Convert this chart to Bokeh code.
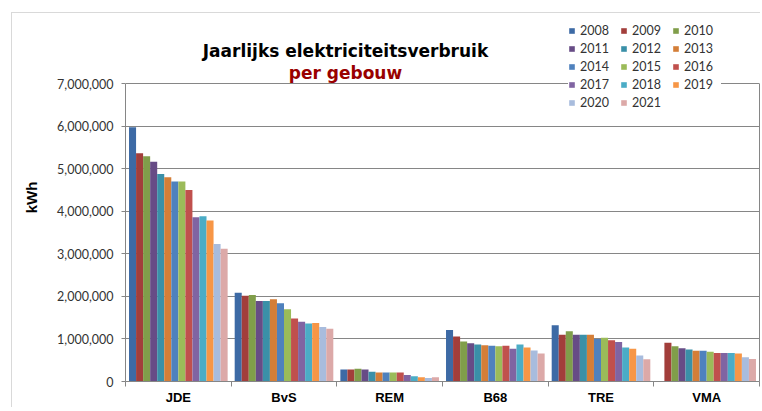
import math
from bokeh.plotting import figure
from bokeh.models import (ColumnDataSource, FactorRange, Range1d, LinearAxis, CategoricalAxis,
                          FixedTicker, NumeralTickFormatter, Legend, LegendItem, Label)
from bokeh.transform import dodge
from bokeh.embed import file_html
from bokeh.resources import INLINE

buildings = ["JDE", "BvS", "REM", "B68", "TRE", "VMA"]
years = ["2008", "2009", "2010", "2011", "2012", "2013", "2014",
         "2015", "2016", "2017", "2018", "2019", "2020", "2021"]

JDE = [5970000, 5360000, 5290000, 5160000, 4875000, 4800000, 4700000,
       4700000, 4500000, 3860000, 3880000, 3780000, 3230000, 3120000]
BvS = [2086000, 2016000, 2030000, 1890000, 1890000, 1930000, 1836000,
       1700000, 1480000, 1406000, 1360000, 1375000, 1280000, 1240000]
REM = [280000, 280000, 297000, 280000, 227000, 210000, 210000,
       210000, 210000, 150000, 125000, 100000, 80000, 100000]
B68 = [1210000, 1055000, 940000, 900000, 870000, 850000, 840000,
       830000, 840000, 770000, 870000, 800000, 730000, 660000]
TRE = [1320000, 1100000, 1180000, 1100000, 1100000, 1100000, 1000000,
       1030000, 970000, 930000, 800000, 770000, 610000, 520000]
VMA = [float("nan"), 910000, 830000, 780000, 750000, 720000, 720000,
       700000, 670000, 670000, 670000, 660000, 570000, 530000]

y_ticks = [0, 1000000, 2000000, 3000000, 4000000, 5000000, 6000000, 7000000]

colors = ["#3D6AA5", "#A23E3B", "#809E4A", "#674C86", "#3A90A8", "#D47E38", "#4F81BD",
          "#9BBB59", "#C0504D", "#8064A2", "#4BACC6", "#F79646", "#A8BCDD", "#DCA9A8"]

per_building = [JDE, BvS, REM, B68, TRE, VMA]
data = {"building": buildings}
for j, yr in enumerate(years):
    data["y" + yr] = [row[j] for row in per_building]
source = ColumnDataSource(data)

# frame spans the whole chart area (title + legend inside); plot area = 0..7M
FRAME_H = 368
PLOT_H = 298
y_max = y_ticks[-1]
y_top = y_max * FRAME_H / PLOT_H

p = figure(x_range=FactorRange(*buildings, range_padding=0),
           y_range=Range1d(0, y_top),
           frame_width=634, frame_height=FRAME_H,
           min_border_left=113, min_border_top=0, min_border_right=1, min_border_bottom=0,
           x_axis_location=None, y_axis_location="left",
           output_backend="svg", toolbar_location=None, title=None)
p.title_location = None
p.styles = {"margin-left": "11px", "margin-top": "12px",
            "border-left": "1px solid #D9D9D9", "border-top": "1px solid #D9D9D9"}

p.background_fill_color = "white"
p.border_fill_color = "white"
p.outline_line_color = None
p.xgrid.grid_line_color = None
p.ygrid.grid_line_color = "#868686"
p.ygrid.grid_line_width = 1
p.ygrid.ticker = FixedTicker(ticks=y_ticks, minor_ticks=[])

yax = p.yaxis[0]
yax.bounds = (0, y_max)
yax.ticker = FixedTicker(ticks=y_ticks, minor_ticks=[])
yax.formatter = NumeralTickFormatter(format="0,0")
yax.axis_line_color = "#868686"
yax.major_tick_line_color = "#868686"
yax.major_tick_out = 4
yax.major_tick_in = 0
yax.major_label_standoff = 8
yax.major_label_text_font = "Lato"
yax.major_label_text_font_size = "12.5px"
yax.major_label_text_color = "#333333"
yax.axis_label = "kWh"
yax.axis_label_text_font = "Liberation Sans"
yax.axis_label_text_font_style = "bold"
yax.axis_label_text_font_size = "15px"
yax.axis_label_text_color = "#000000"
yax.axis_label_standoff = 14

# right border of the plot area
rax = LinearAxis(bounds=(0, y_max), ticker=FixedTicker(ticks=[], minor_ticks=[]),
                 axis_line_color="#868686", major_tick_line_color=None,
                 major_label_text_font_size="1px")
p.add_layout(rax, "right")

# tick marks at the boundaries between the building groups
bounds_ticks = list(range(len(buildings) + 1))
bax = LinearAxis(ticker=FixedTicker(ticks=bounds_ticks, minor_ticks=[]),
                 major_label_overrides={t: "" for t in bounds_ticks},
                 major_label_text_font_size="1px", major_label_standoff=0,
                 major_tick_out=5, major_tick_in=0,
                 major_tick_line_color="#868686", axis_line_color="#868686")
p.add_layout(bax, "below")

cax = CategoricalAxis(major_tick_line_color=None, axis_line_color=None,
                      major_tick_out=0, major_tick_in=0, major_label_standoff=3,
                      major_label_text_font="Liberation Sans",
                      major_label_text_font_style="bold",
                      major_label_text_font_size="13px",
                      major_label_text_color="#000000")
p.add_layout(cax, "below")

n = len(years)
w = 1.0 / (n + 1)
items = []
for j, yr in enumerate(years):
    off = (j - (n - 1) / 2) * w
    r = p.vbar(x=dodge("building", off, range=p.x_range), top="y" + yr, width=w,
               source=source, fill_color=colors[j], line_color=None)
    items.append(LegendItem(label=yr, renderers=[r]))

legend = Legend(items=items, orientation="horizontal", nrows=5,
                location=(443, 271),
                glyph_width=7, glyph_height=7, label_height=15, label_width=37,
                label_standoff=5, spacing=3, padding=4, margin=0,
                label_text_font="Lato", label_text_font_size="12.5px",
                label_text_color="#333333",
                background_fill_color="white", background_fill_alpha=1.0,
                border_line_color=None)
p.add_layout(legend, "center")

p.add_layout(Label(x=220, y=331, x_units="screen", y_units="screen",
                   text="Jaarlijks elektriciteitsverbruik", text_align="center",
                   text_baseline="alphabetic", text_font="DejaVu Sans",
                   text_font_style="bold", text_font_size="17px", text_color="#000000"))
p.add_layout(Label(x=220, y=309, x_units="screen", y_units="screen",
                   text="per gebouw", text_align="center",
                   text_baseline="alphabetic", text_font="DejaVu Sans",
                   text_font_style="bold", text_font_size="17px", text_color="#990000"))

open("out.html", "w").write(file_html(p, INLINE))
